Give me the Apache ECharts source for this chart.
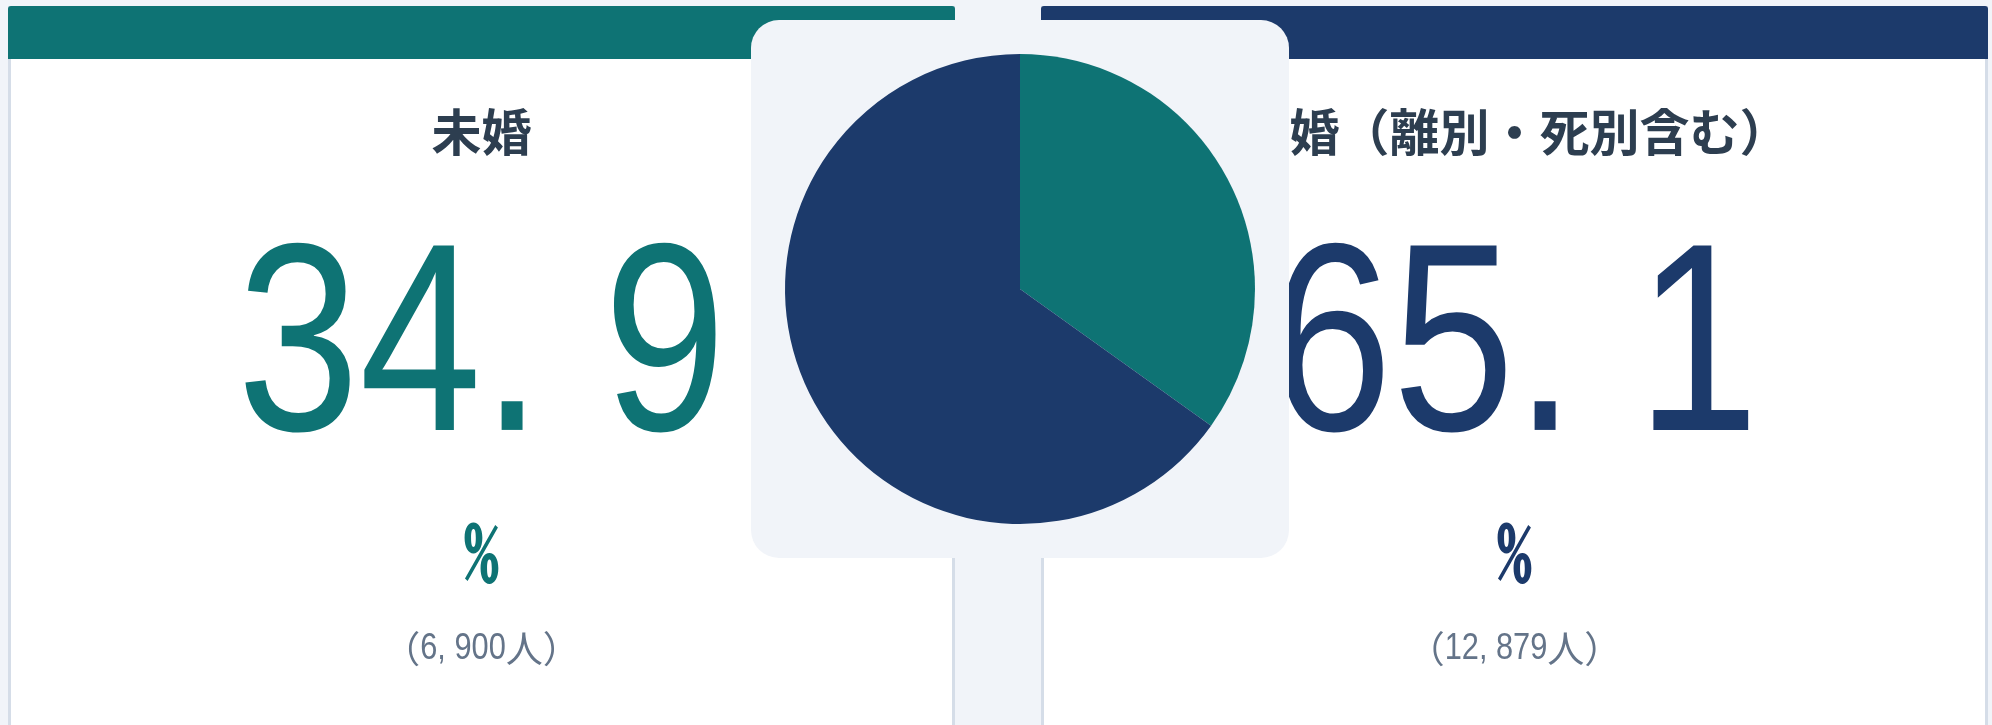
<!DOCTYPE html>
<html lang="ja">
<head>
<meta charset="utf-8">
<title>婚姻状況</title>
<script src="https://cdn.jsdelivr.net/npm/echarts@6/dist/echarts.min.js"></script>
<style>
  html, body { margin: 0; padding: 0; background: #f1f4f9; }
  #chart { width: 1992px; height: 725px; }
</style>
</head>
<body>
<div id="chart"></div>
<script>
// Marital status: people counts per group
const categories = ['未婚', '既婚（離別・死別含む）'];
const counts = [6900, 12879];
const colors = ['#0e7374', '#1c3a6b'];

const total = counts.reduce((a, b) => a + b, 0);
const percents = counts.map(v => (v / total * 100).toFixed(1));
// numbers are set with a gap after the separator
const percentLabels = percents.map(p => p.replace('.', '. '));
const countNumbers = counts.map(v => v.toLocaleString('en-US').replace(',', ', '));

const LATIN = "'Liberation Sans', Arial, sans-serif";
const MONO = "'Noto Sans Mono CJK JP', 'Noto Sans CJK JP', monospace";
const SANS = "'Noto Sans CJK JP', 'Noto Sans', sans-serif";
const NARROW = 0.82;   // horizontal squeeze for the condensed figures

const measureCtx = document.createElement('canvas').getContext('2d');
function textWidth(str, font) {
  measureCtx.font = font;
  return measureCtx.measureText(str).width;
}

// Two side cards with coloured headers
const cards = [
  { x: 8, w: 947 },
  { x: 1041, w: 947 }
];

// "（6, 900人）": CJK brackets and 人 at full width, figures condensed
function countLabel(i, cx, y) {
  const cjkFont = '37px ' + SANS;
  const numFont = '37.5px ' + LATIN;
  const pre = '（', post = '人）';
  const w1 = textWidth(pre, cjkFont);
  const w2 = textWidth(countNumbers[i], numFont) * NARROW;
  const w3 = textWidth(post, cjkFont);
  const x0 = cx - (w1 + w2 + w3) / 2;
  const fill = '#647489';
  return [
    { type: 'text', z: 4, style: { text: pre, x: x0, y, fill, font: cjkFont, align: 'left', verticalAlign: 'middle' } },
    { type: 'text', z: 4, x: x0 + w1, y, scaleX: NARROW,
      style: { text: countNumbers[i], x: 0, y: 0, fill, font: numFont, align: 'left', verticalAlign: 'middle' } },
    { type: 'text', z: 4, style: { text: post, x: x0 + w1 + w2, y, fill, font: cjkFont, align: 'left', verticalAlign: 'middle' } }
  ];
}

function cardElements(i) {
  const c = cards[i];
  const cx = c.x + c.w / 2;
  const col = colors[i];
  return [
    { type: 'rect', z: 1, shape: { x: c.x, y: 6, width: c.w, height: 760 }, style: { fill: '#d5dde8' } },
    { type: 'rect', z: 2, shape: { x: c.x + 3, y: 6, width: c.w - 6, height: 760 }, style: { fill: '#ffffff' } },
    { type: 'rect', z: 3, shape: { x: c.x, y: 6, width: c.w, height: 53, r: [3, 3, 0, 0] }, style: { fill: col } },
    { type: 'text', z: 4, style: { text: categories[i], x: cx, y: 132, fill: '#2d3e50',
        font: 'bold 50px ' + SANS, align: 'center', verticalAlign: 'middle' } },
    { type: 'text', z: 4, x: cx, y: 356, scaleX: NARROW, style: { text: percentLabels[i], x: 0, y: 0, fill: col,
        font: '268px ' + LATIN, align: 'center', verticalAlign: 'middle' } },
    { type: 'text', z: 4, x: cx, y: 551.5, scaleX: 0.84, style: { text: '%', x: 0, y: 0, fill: col,
        font: 'bold 82px ' + MONO, align: 'center', verticalAlign: 'middle' } },
    ...countLabel(i, cx, 649)
  ];
}

const chart = echarts.init(document.getElementById('chart'), null, { renderer: 'canvas' });
chart.setOption({
  backgroundColor: '#f1f4f9',
  animation: false,
  graphic: [
    ...cardElements(0),
    ...cardElements(1),
    // centre panel behind the pie
    { type: 'rect', z: 10, shape: { x: 751, y: 20, width: 538, height: 538, r: 28 }, style: { fill: '#f1f4f9' } }
  ],
  series: [{
    type: 'pie',
    z: 20,
    center: [1020, 289],
    radius: [0, 235],
    startAngle: 90,
    clockwise: true,
    label: { show: false },
    labelLine: { show: false },
    emphasis: { disabled: true },
    silent: true,
    data: categories.map((name, i) => ({ name, value: counts[i], itemStyle: { color: colors[i] } }))
  }]
});
</script>
</body>
</html>
